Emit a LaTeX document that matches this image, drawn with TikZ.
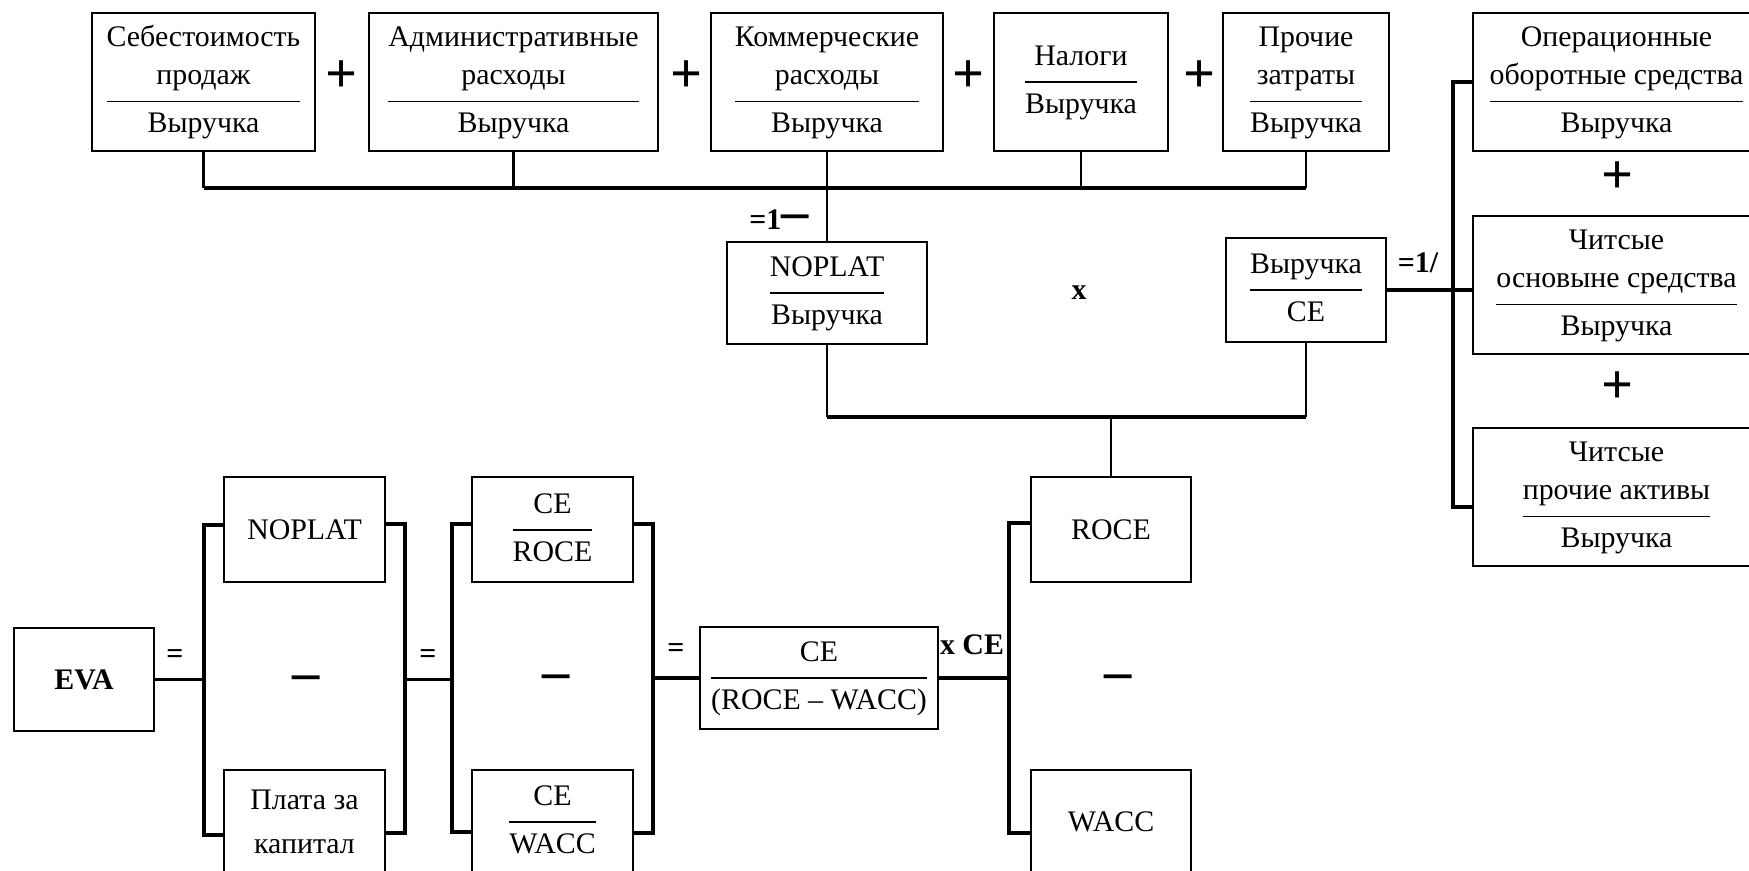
\documentclass[tikz,border=0pt]{standalone}
\usepackage{fontspec}
\setmainfont{Liberation Serif}
\usepackage{tikz}
\setlength{\arrayrulewidth}{0.9pt}
\newcommand{\frc}[2]{\begin{tabular}{@{}c@{}}#1\\[2.5pt]\hline\rule{0pt}{17.5pt}#2\end{tabular}}

\begin{document}
\begin{tikzpicture}
		[x=0.02cm,y=-0.02cm,
		%Styles
		box/.style={draw,line width=0.7pt,inner sep=0pt,outer sep=0pt,align=center,
			font=\fontsize{17}{21.8}\selectfont},
		drop/.style={line width=1.4pt},
		bus/.style={line width=2pt},
		plus sign/.style={inner sep=0pt,font=\fontsize{32}{32}\selectfont\bfseries},
		minus sign/.style={inner sep=0pt,anchor=base,font=\fontsize{31}{31}\selectfont\bfseries},
		op text/.style={inner sep=0pt,font=\fontsize{17}{20}\selectfont\bfseries}
		]
		\useasboundingbox (0,0) rectangle (1749,871);
		
		%The graphic
		\node[box,minimum width=4.46cm,minimum height=2.76cm] (cogs) at (203.5,82) {\frc{Себестоимость\\продаж}{Выручка}};
		\node[box,minimum width=5.78cm,minimum height=2.76cm] (admin) at (513.5,82) {\frc{Административные\\расходы}{Выручка}};
		\node[box,minimum width=4.64cm,minimum height=2.76cm] (comm) at (827,82) {\frc{Коммерческие\\расходы}{Выручка}};
		\node[box,minimum width=3.48cm,minimum height=2.76cm] (tax) at (1081,82) {\frc{Налоги}{Выручка}};
		\node[box,minimum width=3.32cm,minimum height=2.76cm] (other) at (1306,82) {\frc{Прочие\\затраты}{Выручка}};
		
		\node[box,minimum width=5.74cm,minimum height=2.76cm] (opwc) at (1616.5,82) {\frc{Операционные\\оборотные средства}{Выручка}};
		\node[box,minimum width=5.74cm,minimum height=2.76cm] (netfa) at (1616.5,285) {\frc{Читсые\\основыне средства}{Выручка}};
		\node[box,minimum width=5.74cm,minimum height=2.76cm] (netoa) at (1616.5,497) {\frc{Читсые\\прочие активы}{Выручка}};
		
		\node[box,minimum width=4cm,minimum height=2.04cm] (nopr) at (827,293) {\frc{NOPLAT}{Выручка}};
		\node[box,minimum width=3.2cm,minimum height=2.08cm] (rece) at (1306,290) {\frc{Выручка}{CE}};
		
		\node[box,minimum width=3.2cm,minimum height=2.1cm] (roce) at (1111,529.5) {ROCE};
		\node[box,minimum width=3.2cm,minimum height=2.08cm] (wacc) at (1111,822) {WACC};
		
		\node[box,minimum width=2.8cm,minimum height=2.06cm] (eva) at (84,679.5) {\bfseries EVA};
		\node[box,minimum width=3.22cm,minimum height=2.1cm] (noplat) at (304.5,529.5) {NOPLAT};
		\node[box,minimum width=3.22cm,minimum height=2.08cm] (capch) at (304.5,822) {Плата за\\[3pt]капитал};
		\node[box,minimum width=3.22cm,minimum height=2.1cm] (ceroce) at (552.5,529.5) {\frc{CE}{ROCE}};
		\node[box,minimum width=3.22cm,minimum height=2.08cm] (cewacc) at (552.5,822) {\frc{CE}{WACC}};
		\node[box,minimum width=4.76cm,minimum height=2.04cm] (cespread) at (819,678) {\frc{CE}{(ROCE – WACC)}};
		
		%signs
		\node[plus sign] (p1) at (342,77) {+};
		\node[plus sign] (p2) at (687,77) {+};
		\node[plus sign] (p3) at (969,77) {+};
		\node[plus sign] (p4) at (1200,77) {+};
		\node[plus sign] (p5) at (1618,178) {+};
		\node[plus sign] (p6) at (1618,388) {+};
		\node[minus sign] (m1) at (306,690) {–};
		\node[minus sign] (m2) at (556,689) {–};
		\node[minus sign] (m3) at (1118,689) {–};
		\node[op text] (eq1) at (175,657) {=};
		\node[op text] (eq2) at (428,657) {=};
		\node[op text] (eq3) at (676,651) {=};
		\node[op text,anchor=base west] (onemin) at (749,230) {=1{\fontsize{31}{31}\selectfont –}};
		\node[op text] (oneover) at (1418,263) {=1/};
		\node[op text] (times) at (1079,293) {x};
		\node[op text] (timesce) at (972,645) {x CE};
		
		%top bus
		\coordinate (tbus) at (827,188);
		\foreach \n in {cogs,admin,tax,other}
			\draw[drop] (\n.south) -- (\n.south |- tbus);
		\draw[bus] (cogs.south |- tbus) -- (other.south |- tbus);
		\draw[drop] (comm.south) -- (nopr.north);
		
		%lower bus
		\coordinate (bbus) at (1108,417);
		\draw[drop] (nopr.south) -- (nopr.south |- bbus);
		\draw[drop] (rece.south) -- (rece.south |- bbus);
		\draw[bus] (nopr.south |- bbus) -- (rece.south |- bbus);
		\draw[drop] (roce.north |- bbus) -- (roce.north);
		
		%right column
		\coordinate (rbot) at (1453,507);
		\draw[bus] (rece.east) -- (rece.east -| opwc.west);
		\draw[bus] (opwc.west) -| (rbot) -- (rbot -| netoa.west);
		
		%brackets
		\coordinate (k1) at (204,525); \coordinate (k1b) at (204,835);
		\coordinate (k2) at (405,524); \coordinate (k2b) at (405,833);
		\coordinate (k3) at (452,524); \coordinate (k3b) at (452,832);
		\coordinate (k4) at (653,524); \coordinate (k4b) at (653,833);
		\coordinate (k5) at (1009,523); \coordinate (k5b) at (1009,833);
		\foreach \k/\a/\b/\s in {k1/noplat/capch/west,k2/noplat/capch/east,
				k3/ceroce/cewacc/west,k4/ceroce/cewacc/east,k5/roce/wacc/west}
			\draw[bus] (\k -| \a.\s) -- (\k) -- (\k b) -- (\k b -| \b.\s);
		\draw[bus] (eva.east) -- (eva.east -| k1);
		\draw[bus] (k2 |- eva.east) -- (k3 |- eva.east);
		\draw[bus] (k4 |- cespread.west) -- (cespread.west);
		\draw[bus] (cespread.east) -- (cespread.east -| k5);
	\end{tikzpicture}
\end{document}
